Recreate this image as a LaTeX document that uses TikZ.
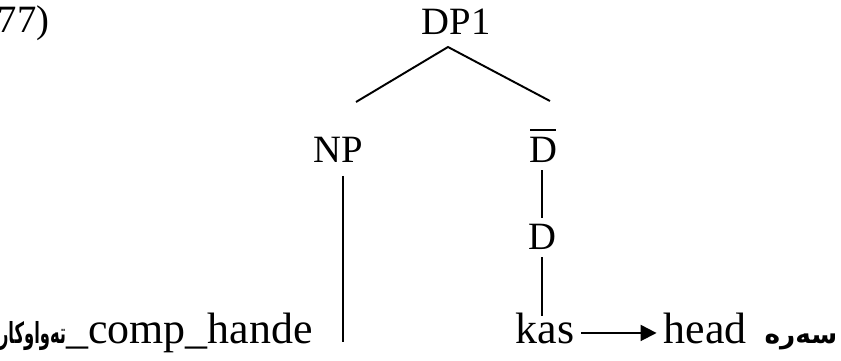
\documentclass[tikz,border=0pt]{standalone}
\usepackage{fontspec}
\setmainfont{Liberation Serif}
\newfontfamily\arabicfont[Script=Arabic]{DejaVu Sans}
\TeXXeTstate=1
\usetikzlibrary{arrows.meta}

\newcommand{\toprow}{\fontsize{22}{26}\selectfont}
\newcommand{\botrow}{\fontsize{25}{30}\selectfont}
\newcommand{\kurd}{\arabicfont\bfseries\fontsize{15}{18}\selectfont}
\newcommand{\barD}{\makebox[0pt][l]{\kern0.03em\rule[0.84em]{0.66em}{0.05em}}D}

\begin{document}
\begin{tikzpicture}[line width=1.1pt,
	cat/.style={font=\toprow, inner sep=0.12cm, anchor=base},
	word/.style={font=\botrow, inner sep=0.12cm, anchor=base}]
	\useasboundingbox (0,0) rectangle (16.82,-7.22);

	\node[font=\toprow, inner sep=0, anchor=base west] (num) at (-0.06,-0.66) {77)};
	\node[cat] (dp1) at (9.12,-0.70) {DP1};
	\node[cat] (np) at (6.77,-3.26) {NP};
	\node[cat] (dbar) at (10.86,-3.26) {\barD};
	\node[cat] (d) at (10.84,-5.00) {D};
	\node[word] (kas) at (10.90,-6.86) {kas};
	\node[word] (head) at (14.10,-6.86) {head};
	\node[font=\kurd, inner sep=0, anchor=base] (sere) at (16.02,-6.86) {\beginR سەرە\endR};
	\node[word, inner sep=0, anchor=base east] (comp) at (6.27,-6.86) {{\kurd\scalebox{0.62}[1.1]{\beginR تەواوکار\endR}}\_comp\_hande};

	% branches
	\coordinate (apex) at (8.96,-0.94);
	\coordinate (npTop) at (7.12,-2.04);
	\coordinate (dbarTop) at (11.00,-2.02);
	\draw (npTop) -- (apex) -- (dbarTop);

	\coordinate (npFoot) at (6.86,-6.84);
	\draw ([yshift=-0.12cm]np.south -| npFoot) -- (npFoot);
	\draw (d.north |- dbar.south) -- (d.north);
	\draw (d.south) -- ([yshift=-0.2cm]d.south |- kas.north);

	\draw [-{Triangle[length=0.32cm,width=0.32cm]}] ([yshift=-0.1cm]kas.east) -- ([yshift=-0.1cm]head.west);
\end{tikzpicture}
\end{document}
